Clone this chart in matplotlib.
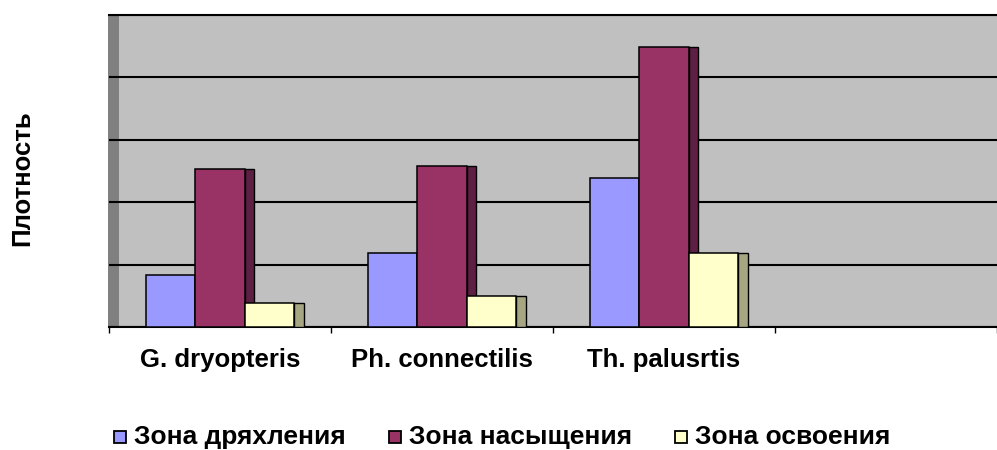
import matplotlib
matplotlib.use("Agg")
import matplotlib.pyplot as plt
from matplotlib.patches import Rectangle
import numpy as np

# density per zone for each species (4th category slot left empty)
species = ["G. dryopteris", "Ph. connectilis", "Th. palusrtis", ""]
zones = ["Зона дряхления", "Зона насыщения", "Зона освоения"]
decline = [0.83, 1.19, 2.38]
saturation = [2.53, 2.58, 4.48]
settling = [0.38, 0.50, 1.18]

front_colors = ["#9999FF", "#993366", "#FFFFCC"]
side_colors = ["#6666AA", "#5E1F44", "#A6A682"]

plt.rcParams["font.family"] = ["Liberation Sans", "DejaVu Sans"]
plt.rcParams["font.weight"] = "bold"

W, H = 997, 450
fig = plt.figure(figsize=(W / 100, H / 100), dpi=100)
ax = fig.add_axes([109 / W, 123 / H, 888 / W, 312 / H])
ax.set_facecolor("#C0C0C0")
ax.set_xlim(0, len(species))
ax.set_ylim(0, 5)

bar_w = 0.223
depth = 0.043
centers = np.arange(len(decline)) + 0.5
series = [decline, saturation, settling]
for k, vals in enumerate(series):
    pos = centers + (k - 1) * bar_w
    # fake 3d side face, then the front face
    ax.bar(pos + bar_w / 2 + depth / 2, vals, width=depth, color=side_colors[k],
           edgecolor="black", linewidth=1.0, zorder=3 + 2 * k)
    ax.bar(pos, vals, width=bar_w, color=front_colors[k],
           edgecolor="black", linewidth=1.1, zorder=4 + 2 * k)

# side wall of the plot box
ax.add_patch(Rectangle((-0.005, 0), 0.05, 5, facecolor="#808080",
                       edgecolor="none", clip_on=False, zorder=0.4))

ax.set_yticks(range(6))
ax.set_yticklabels([])
ax.tick_params(axis="y", length=0)
ax.set_axisbelow(True)
ax.yaxis.grid(True, color="black", linewidth=1.5)

ax.set_xticks(range(len(species) + 1))
ax.set_xticklabels([])
ax.tick_params(axis="x", which="major", length=4.5, width=1, color="black")
ax.set_xticks(np.arange(len(species)) + 0.5, minor=True)
ax.set_xticklabels(species, minor=True, fontsize=18.5, fontweight="bold")
ax.tick_params(axis="x", which="minor", length=0, pad=15)

for side in ["left", "right"]:
    ax.spines[side].set_visible(False)
ax.spines["bottom"].set_linewidth(1.5)
ax.spines["top"].set_linewidth(1.5)

fig.text(22 / W, 1 - 178 / H, "Плотность", rotation=90, ha="center",
         va="center", fontsize=18.5, fontweight="bold")

# legend row: colour square + label, laid out by hand
legend_x = [114, 389, 675]
for k, name in enumerate(zones):
    x0 = legend_x[k]
    fig.add_artist(Rectangle((x0 / W, 1 - 443 / H), 12 / W, 12 / H,
                             transform=fig.transFigure, facecolor=front_colors[k],
                             edgecolor="black", linewidth=1.3))
    fig.text((x0 + 20) / W, 1 - 444 / H, name, ha="left", va="baseline",
             fontsize=19, fontweight="bold")

plt.savefig("out.png", dpi=100)
